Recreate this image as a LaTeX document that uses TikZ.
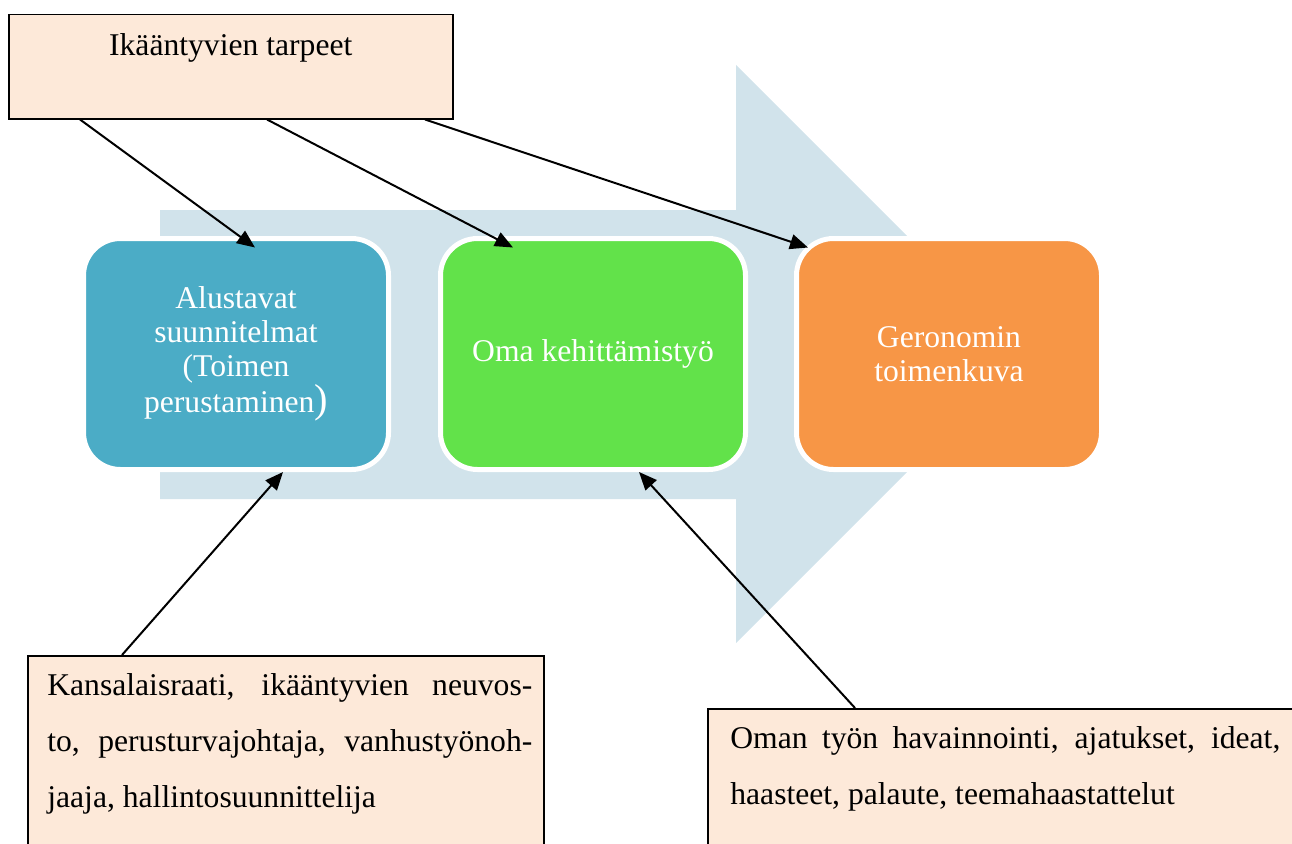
\documentclass[tikz,border=0pt]{standalone}
\usepackage{fontspec}
\setmainfont{Liberation Serif}
\usetikzlibrary{arrows.meta,calc}
\definecolor{nuolivari}{HTML}{D1E3EB}
\definecolor{sininen}{HTML}{4BACC6}
\definecolor{vihrea}{HTML}{62E24A}
\definecolor{oranssi}{HTML}{F79646}
\definecolor{laatikkovari}{HTML}{FDE9D9}

\begin{document}
\begin{tikzpicture}[
		vaihe/.style={draw=white, line width=0.1cm, rounded corners=0.74cm, minimum width=6.1cm, minimum height=4.62cm, align=center, text=white, font=\fontsize{18}{19.3}\selectfont},
		laatikko/.style={draw=black, fill=laatikkovari, line width=0.03cm, inner sep=0},
		teksti/.style={inner sep=0, align=justify, font=\fontsize{18}{31.9}\selectfont},
		yhteys/.style={line width=0.04cm, -{Triangle[length=0.36cm,width=0.3cm]}}]
		\useasboundingbox (0,0) rectangle (25.84,-16.86);
		\clip (0,0) rectangle (25.84,-16.86);

		\fill[nuolivari] (3.2,-4.2) -- (14.72,-4.2) -- (14.72,-1.3) -- (20.5,-7.08) -- (14.72,-12.86) -- (14.72,-9.98) -- (3.2,-9.98) -- cycle;

		\node[vaihe, fill=sininen] (alku) at (4.72,-7.08) {Alustavat\\suunnitelmat\\(Toimen\\perustaminen{\fontsize{23}{23}\selectfont)}};
		\node[vaihe, fill=vihrea] (oma) at (11.86,-7.08) {Oma kehittämistyö};
		\node[vaihe, fill=oranssi] (toimi) at (18.98,-7.08) {Geronomin\\toimenkuva};

		\node[laatikko, anchor=north west, minimum width=8.88cm, text height=0.82cm, text depth=1.26cm, font=\fontsize{18}{20}\selectfont] (tarpeet) at (0.16,-0.28) {Ikääntyvien tarpeet};
		\node[laatikko, anchor=north west, minimum width=10.32cm, minimum height=5cm] (kbox) at (0.54,-13.1) {};
		\node[laatikko, anchor=north west, minimum width=12cm, minimum height=4cm] (obox) at (14.14,-14.16) {};
		\node[teksti, anchor=north west, text width=9.7cm] (ktext) at (0.94,-13.47) {Kansalaisraati, ikääntyvien neuvos-\linebreak to, perusturvajohtaja, vanhustyönoh-\linebreak jaaja, hallintosuunnittelija};
		\node[teksti, anchor=north west, text width=11cm] (otext) at (14.6,-14.53) {Oman työn havainnointi, ajatukset, ideat,\linebreak haasteet, palaute, teemahaastattelut};

		\draw[yhteys] ($(tarpeet.south west)+(1.44,0)$) -- ($(alku.north)+(0.38,-0.23)$);
		\draw[yhteys] ($(tarpeet.south west)+(5.18,0)$) -- ($(oma.north)+(-1.6,-0.23)$);
		\draw[yhteys] ($(tarpeet.south west)+(8.34,0)$) -- ($(toimi.north)+(-2.82,-0.23)$);
		\draw[yhteys] ($(kbox.north west)+(1.9,0)$) -- ($(alku.south)+(0.94,0)$);
		\draw[yhteys] ($(obox.north west)+(2.96,0)$) -- ($(oma.south)+(0.92,0)$);
	\end{tikzpicture}
\end{document}
